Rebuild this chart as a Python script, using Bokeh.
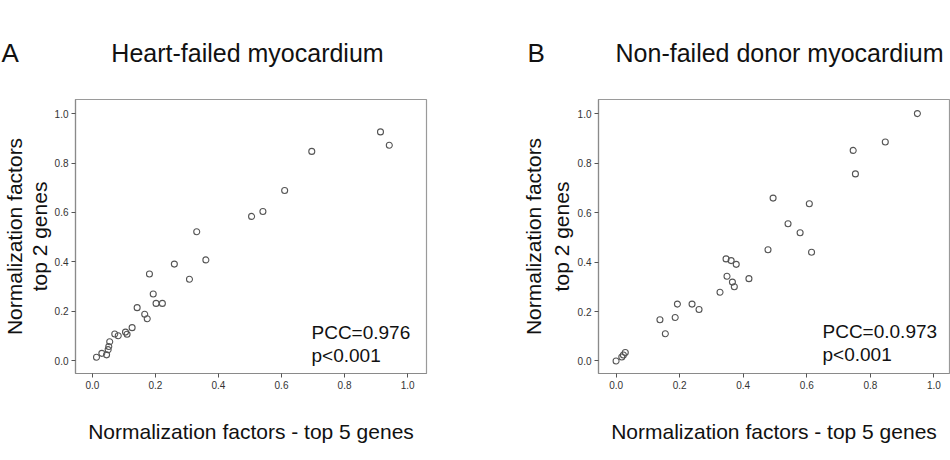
from bokeh.plotting import figure
from bokeh.layouts import row, column
from bokeh.models import Range1d, Label, FixedTicker
from bokeh.core.properties import value
from bokeh.embed import file_html
from bokeh.resources import INLINE

# Normalization factors, heart-failed myocardium
hf_top5 = [0.013, 0.030, 0.045, 0.050, 0.052, 0.055, 0.071, 0.082, 0.105, 0.110,
           0.126, 0.142, 0.166, 0.174, 0.181, 0.193, 0.202, 0.222, 0.260, 0.308,
           0.331, 0.360, 0.505, 0.541, 0.610, 0.696, 0.914, 0.942]
hf_top2 = [0.014, 0.030, 0.024, 0.045, 0.058, 0.077, 0.108, 0.101, 0.116, 0.107,
           0.134, 0.215, 0.188, 0.170, 0.351, 0.270, 0.232, 0.232, 0.391, 0.330,
           0.522, 0.408, 0.584, 0.604, 0.689, 0.847, 0.926, 0.872]

# Normalization factors, non-failed donor myocardium
nf_top5 = [0.000, 0.018, 0.023, 0.029, 0.138, 0.155, 0.186, 0.193, 0.239, 0.261,
           0.327, 0.346, 0.349, 0.362, 0.366, 0.372, 0.378, 0.418, 0.478, 0.494,
           0.541, 0.579, 0.608, 0.615, 0.746, 0.753, 0.847, 0.948]
nf_top2 = [0.000, 0.016, 0.024, 0.034, 0.167, 0.110, 0.176, 0.230, 0.230, 0.208,
           0.278, 0.413, 0.343, 0.406, 0.319, 0.300, 0.391, 0.333, 0.450, 0.659,
           0.555, 0.519, 0.636, 0.440, 0.852, 0.757, 0.886, 1.001]

panel_letters = ["A", "B"]
panel_titles = ["Heart-failed myocardium", "Non-failed donor myocardium"]
pcc_texts = ["PCC=0.976", "PCC=0.0.973"]
p_texts = ["p<0.001", "p<0.001"]
x_label = "Normalization factors - top 5 genes"
y_label = "Normalization factors\ntop 2 genes"

ticks = [0.0, 0.2, 0.4, 0.6, 0.8, 1.0]
tick_labels = {0.0: "0.0", 0.2: "0.2", 0.4: "0.4", 0.6: "0.6", 0.8: "0.8", 1.0: "1.0"}

FONT = "Liberation Sans"
HEAD_H = 70

# Header strip carrying the panel letters and panel titles
head = figure(width=950, height=HEAD_H, output_backend="svg", toolbar_location=None,
              x_range=Range1d(0, 950), y_range=Range1d(HEAD_H, 0),
              x_axis_type=None, y_axis_type=None, min_border=0)
head.xgrid.visible = False
head.ygrid.visible = False
head.outline_line_color = None
head.text(x=[1, 527], y=[52, 52], text=panel_letters, text_font=value(FONT),
          text_font_size="26px", text_color="#111111", text_baseline="alphabetic")
head.text(x=[247, 779], y=[52, 52], text=panel_titles, text_font=value(FONT),
          text_font_size="25px", text_color="#111111", text_align="center",
          text_baseline="alphabetic")


def panel(xs, ys, pcc, ptxt, xr, yr, borders, ylab, pcc_pos):
    left, right, top, bottom = borders
    ylab_size, ylab_lh, ylab_standoff = ylab
    p = figure(width=475, height=460 - HEAD_H, output_backend="svg",
               toolbar_location=None,
               x_range=Range1d(*xr), y_range=Range1d(*yr),
               min_border_left=left, min_border_right=right,
               min_border_top=top, min_border_bottom=bottom)
    p.xgrid.visible = False
    p.ygrid.visible = False
    p.outline_line_color = "#9a9a9a"
    p.outline_line_width = 1.2
    for ax in (p.xaxis[0], p.yaxis[0]):
        ax.ticker = FixedTicker(ticks=ticks)
        ax.major_label_overrides = tick_labels
        ax.axis_line_color = "#8a8a8a"
        ax.axis_line_width = 1.2
        ax.major_tick_line_color = "#555555"
        ax.major_tick_out = 4
        ax.major_tick_in = 0
        ax.minor_tick_out = 0
        ax.minor_tick_in = 0
        ax.major_label_text_font = FONT
        ax.major_label_text_font_size = "10px"
        ax.major_label_text_color = "#333333"
        ax.major_label_standoff = 3
        ax.axis_label_text_font = FONT
        ax.axis_label_text_font_size = "21px"
        ax.axis_label_text_font_style = "normal"
        ax.axis_label_text_color = "#111111"
    p.xaxis[0].axis_label = x_label
    p.xaxis[0].axis_label_standoff = 28
    p.yaxis[0].axis_label = y_label
    p.yaxis[0].axis_label_text_font_size = ylab_size
    p.yaxis[0].axis_label_text_line_height = ylab_lh
    p.yaxis[0].axis_label_standoff = ylab_standoff

    p.scatter(xs, ys, marker="circle", size=6, fill_color=None,
              line_color="#555555", line_width=1.1)

    px, py = pcc_pos
    common = dict(x_units="screen", y_units="screen", text_font=FONT,
                  text_color="#111111", text_font_size="19px", text_baseline="middle")
    p.add_layout(Label(x=px, y=py, text=pcc, **common))
    p.add_layout(Label(x=px, y=py - 23, text=ptxt, **common))
    return p


p1 = panel(hf_top5, hf_top2, pcc_texts[0], p_texts[0],
           (-0.0536, 1.060), (-0.0515, 1.057), (72, 49, 99 - HEAD_H, 87),
           ("21px", 1.05, 1), (236, 41))
p2 = panel(nf_top5, nf_top2, pcc_texts[1], p_texts[1],
           (-0.0553, 1.049), (-0.0508, 1.058), (123, 1, 99 - HEAD_H, 86),
           ("21px", 1.2, 2), (224, 42))

layout = column(head, row(p1, p2))
open("out.html", "w").write(file_html(layout, INLINE))
